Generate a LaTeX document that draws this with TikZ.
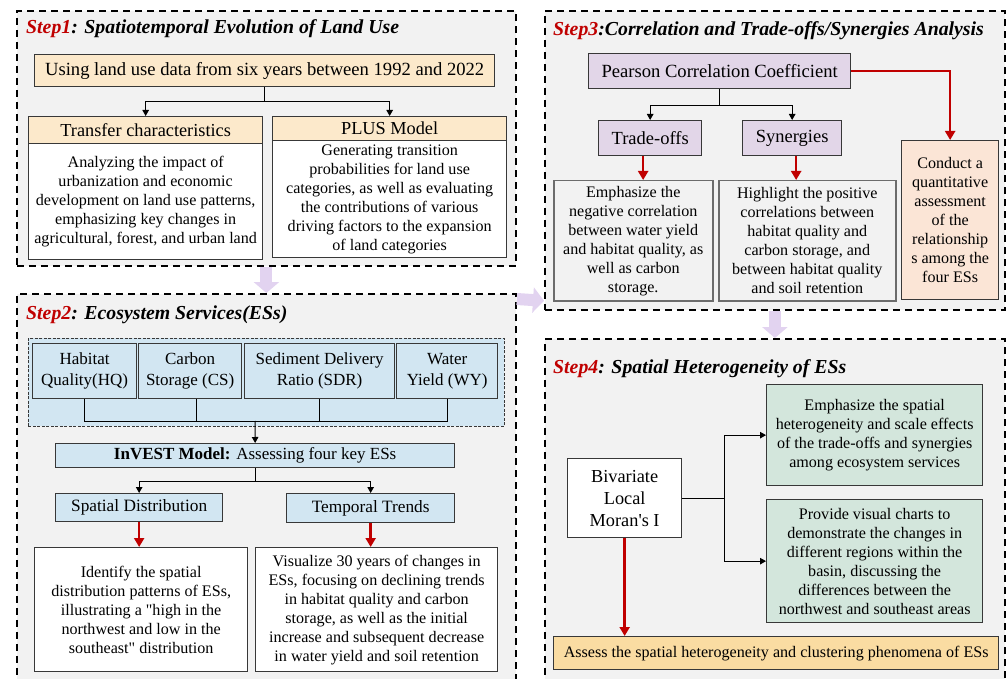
\documentclass[tikz,border=0pt]{standalone}
\usepackage{fontspec}
\setmainfont{Liberation Serif}
\usetikzlibrary{arrows.meta}
\definecolor{panelbg}{HTML}{F2F2F2}
\definecolor{orangeA}{HTML}{FCE9CB}
\definecolor{purpleA}{HTML}{E2D6E8}
\definecolor{peachA}{HTML}{FBE5D6}
\definecolor{blueA}{HTML}{D2E6F2}
\definecolor{greenA}{HTML}{D3E6DC}
\definecolor{assessA}{HTML}{FADCA2}
\definecolor{stepred}{HTML}{C00000}
\definecolor{bigarrowc}{HTML}{E2D3F0}
\definecolor{edgec}{HTML}{383838}
\newcommand\bodyf{\fontsize{16.1pt}{19pt}\selectfont}
\newcommand\headf{\fontsize{18.3pt}{20pt}\selectfont}
\newcommand\titlef{\fontsize{19.8pt}{22pt}\selectfont\bfseries\itshape}
\tikzset{
  panel/.style={draw=black, line width=1.8pt, dash pattern=on 7pt off 5pt, fill=panelbg, anchor=north west, inner sep=0pt},
  bx/.style={draw=edgec, line width=1.3pt, anchor=north west, align=center, inner sep=1pt, font=\bodyf},
  ttl/.style={anchor=base west, inner sep=0pt, font=\titlef},
  conn/.style={draw=black, line width=1pt, -{Triangle[length=6pt,width=6.5pt]}},
  plain/.style={draw=black, line width=1pt},
  redarr/.style={draw=stepred, line width=2.4pt, -{Triangle[length=9pt,width=10pt]}},
  bigarr/.style={draw=bigarrowc, line width=12pt, -{Triangle[length=11pt,width=25pt]}}
}
\begin{document}
\begin{tikzpicture}[x=1pt,y=-1pt]
\useasboundingbox (0,0) rectangle (1007,679);
\fill[white] (0,0) rectangle (1007,679);

% ---------- panels ----------
\node[panel, minimum width=499pt, minimum height=255pt] (p1) at (16,10) {};
\node[panel, minimum width=460pt, minimum height=299pt] (p3) at (544,10) {};
\node[panel, minimum width=499pt, minimum height=392pt] (p2) at (16,293) {};
\node[panel, minimum width=460pt, minimum height=347pt] (p4) at (544,338) {};

% ---------- big arrows between panels ----------
\draw[bigarr] (p1.south) -- (p2.north);
\draw[bigarr] ([yshift=-6pt]p2.north east) -- ([yshift=10pt]p3.south west);
\draw[bigarr] (p3.south) -- (p4.north);

% ---------- Step 1 ----------
\node[ttl] (t1) at (26,34) {\textcolor{stepred}{Step1}: Spatiotemporal Evolution of Land Use};
\node[bx, fill=orangeA, minimum width=460pt, minimum height=32pt, font=\fontsize{18.6pt}{20pt}\selectfont] (use) at (34,54) {Using land use data from six years between 1992 and 2022};
\node[bx, fill=orangeA, minimum width=234pt, minimum height=27pt, font=\headf] (tch) at (28,116) {Transfer characteristics};
\node[bx, fill=white, minimum width=234pt, minimum height=116pt] (tcb) at (28,143) {Analyzing the impact of\\ urbanization and economic\\ development on land use patterns,\\ emphasizing key changes in\\ agricultural, forest, and urban land};
\node[bx, fill=orangeA, minimum width=234pt, minimum height=24pt, font=\headf] (plh) at (272,116) {PLUS Model};
\node[bx, fill=white, minimum width=234pt, minimum height=117pt] (plb) at (272,140) {Generating transition\\ probabilities for land use\\ categories, as well as evaluating\\ the contributions of various\\ driving factors to the expansion\\ of land categories};
\draw[conn] (use.south) -- ++(0,14) -| (tch.north);
\draw[conn] (use.south) -- ++(0,14) -| (plh.north);

% ---------- Step 3 ----------
\node[ttl] (t3) at (553,36) {\textcolor{stepred}{Step3}:Correlation and Trade-offs/Synergies Analysis};
\node[bx, fill=purpleA, minimum width=262pt, minimum height=35pt, font=\fontsize{18.6pt}{20pt}\selectfont] (pc) at (588,53) {Pearson Correlation Coefficient};
\node[bx, fill=purpleA, minimum width=103pt, minimum height=35pt, font=\fontsize{18.5pt}{20pt}\selectfont] (tro) at (598,120) {Trade-offs};
\node[bx, fill=purpleA, minimum width=99pt, minimum height=35pt, font=\fontsize{18.5pt}{20pt}\selectfont] (syn) at (742,120) {Synergies};
\node[bx, draw=gray!85!black, line width=1.5pt, fill=panelbg, minimum width=159pt, minimum height=120pt] (emb) at (553,180) {Emphasize the\\ negative correlation\\ between water yield\\ and habitat quality, as\\ well as carbon\\ storage.};
\node[bx, draw=gray!85!black, line width=1.5pt, fill=panelbg, minimum width=177pt, minimum height=120pt] (hlb) at (718,180) {Highlight the positive\\ correlations between\\ habitat quality and\\ carbon storage, and\\ between habitat quality\\ and soil retention};
\node[bx, fill=peachA, minimum width=97pt, minimum height=159pt] (cd) at (901,140) {Conduct a\\ quantitative\\ assessment\\ of the\\ relationship\\ s among the\\ four ESs};
\draw[conn] (pc.south) -- ++(0,16) -| (tro.north);
\draw[conn] (pc.south) -- ++(0,16) -| (syn.north);
\draw[redarr] ([xshift=-7pt]tro.south) -- ([xshift=-7pt]tro.south |- emb.north);
\draw[redarr] ([xshift=4pt]syn.south) -- ([xshift=4pt]syn.south |- hlb.north);
\draw[redarr] (pc.east) -| (cd.north);

% ---------- Step 2 ----------
\node[ttl] (t2) at (26,319) {\textcolor{stepred}{Step2}: Ecosystem Services(ESs)};
\node[draw=edgec, line width=0.9pt, dash pattern=on 3pt off 1.5pt, fill=blueA, anchor=north west, minimum width=476pt, minimum height=88pt, inner sep=0pt] (esc) at (28,338) {};
\node[bx, fill=blueA, minimum width=104pt, minimum height=55pt, font=\fontsize{17pt}{20.5pt}\selectfont] (hq) at (32,343) {Habitat\\ Quality(HQ)};
\node[bx, fill=blueA, minimum width=103pt, minimum height=55pt, font=\fontsize{17pt}{20.5pt}\selectfont] (cs) at (138,343) {Carbon\\ Storage (CS)};
\node[bx, fill=blueA, minimum width=150pt, minimum height=55pt, font=\fontsize{17pt}{20.5pt}\selectfont] (sdr) at (244,343) {Sediment Delivery\\ Ratio (SDR)};
\node[bx, fill=blueA, minimum width=101pt, minimum height=55pt, font=\fontsize{17pt}{20.5pt}\selectfont] (wy) at (396,343) {Water\\ Yield (WY)};
\coordinate (bus) at (255,421);
\draw[plain] (hq.south) -- (hq.south |- bus) -- (wy.south |- bus) -- (wy.south);
\draw[plain] ([xshift=6pt]cs.south) -- ([xshift=6pt]cs.south |- bus);
\draw[plain] (sdr.south) -- (sdr.south |- bus);
\node[bx, fill=blueA, minimum width=399pt, minimum height=24pt, font=\fontsize{17pt}{19pt}\selectfont] (inv) at (55,443) {\textbf{InVEST Model:} Assessing four key ESs};
\draw[conn] (bus) -- (inv.north);
\node[bx, fill=blueA, minimum width=167pt, minimum height=28pt, font=\fontsize{17.3pt}{19pt}\selectfont] (sd) at (55,493) {Spatial Distribution};
\node[bx, fill=blueA, minimum width=168pt, minimum height=29pt, font=\fontsize{17.3pt}{19pt}\selectfont] (tt) at (286,493) {Temporal Trends};
\draw[conn] (inv.south) -- ++(0,13) -| (sd.north);
\draw[conn] (inv.south) -- ++(0,13) -| (tt.north);
\node[bx, fill=white, minimum width=213pt, minimum height=124pt] (idb) at (34,547) {Identify the spatial\\ distribution patterns of ESs,\\ illustrating a \textquotedbl high in the\\ northwest and low in the\\ southeast\textquotedbl{} distribution};
\node[bx, fill=white, minimum width=242pt, minimum height=124pt] (vib) at (255,547) {Visualize 30 years of changes in\\ ESs, focusing on declining trends\\ in habitat quality and carbon\\ storage, as well as the initial\\ increase and subsequent decrease\\ in water yield and soil retention};
\draw[redarr] (sd.south) -- (sd.south |- idb.north);
\draw[redarr] (tt.south) -- (tt.south |- vib.north);

% ---------- Step 4 ----------
\node[ttl] (t4) at (553,373) {\textcolor{stepred}{Step4}: Spatial Heterogeneity of ESs};
\node[bx, fill=white, minimum width=114pt, minimum height=79pt, font=\fontsize{18.3pt}{22pt}\selectfont] (mor) at (567,458) {Bivariate\\ Local\\ Moran\textquotesingle s I};
\node[bx, fill=greenA, minimum width=216pt, minimum height=101pt] (g1) at (766,384) {Emphasize the spatial\\ heterogeneity and scale effects\\ of the trade-offs and synergies\\ among ecosystem services};
\node[bx, fill=greenA, minimum width=216pt, minimum height=123pt] (g2) at (766,499) {Provide visual charts to\\ demonstrate the changes in\\ different regions within the\\ basin, discussing the\\ differences between the\\ northwest and southeast areas};
\node[bx, fill=assessA, minimum width=445pt, minimum height=33pt] (as) at (553,636) {Assess the spatial heterogeneity and clustering phenomena of ESs};
\draw[plain] (mor.east) -- ++(42,0) coordinate (mj);
\draw[conn] (mj) |- (g1.west);
\draw[conn] (mj) |- (g2.west);
\draw[redarr] (mor.south) -- (mor.south |- as.north);
\end{tikzpicture}
\end{document}
